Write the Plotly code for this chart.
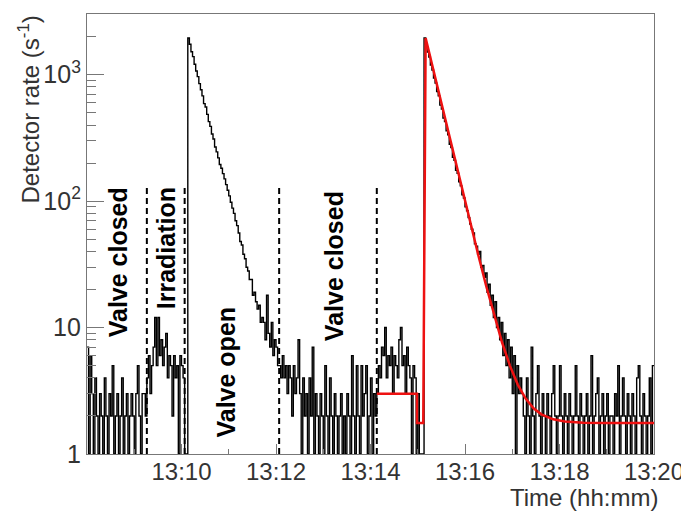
import numpy as np
import plotly.graph_objects as go

# ---------------- data (seconds after 13:08:00, rates in s^-1) ----------------
BIN_WIDTH = 2  # seconds per histogram bin

rate_valve_closed_1 = [7, 1, 6, 3, 1, 4, 2, 1, 3, 2, 1, 4, 2, 1, 3, 2, 5, 1, 2, 3,
                       1, 2, 4, 1, 2, 3, 1, 2, 3, 2, 1, 3, 5, 2, 1, 3, 3, 2]
rate_irradiation = [4, 6, 3, 5, 7, 12, 5, 12, 6, 8, 5, 7, 9, 4, 6, 5, 2, 6, 4, 5,
                    1, 6, 5, 4, 1]
rate_gap_1 = [1]
rate_peak_1 = [1950]
rate_decay_1 = [1740, 1520, 1390, 1210, 1070, 965, 850, 760, 680, 590,
                555, 485, 425, 390, 340, 310, 268, 245, 220, 195,
                182, 165, 150, 135, 122, 110, 98, 88, 80, 70,
                64, 56, 48, 45, 38, 35, 30, 28, 24, 24,
                18, 19, 16, 14, 15, 11, 12, 11, 8, 18,
                9, 7, 11, 6, 8, 7, 5]
rate_valve_closed_2 = [5, 4, 6, 4, 5, 3, 5, 4, 2, 5, 3, 4, 8, 3, 1, 4, 2, 3, 1, 4,
                       2, 7, 1, 3, 2, 1, 3, 2, 1, 5, 2, 1, 4, 2, 1, 3, 2, 1, 2, 3,
                       1, 2, 1, 3, 2, 1, 6, 2, 1, 5, 2, 1, 5, 2, 3, 5, 1, 2, 4, 1,
                       3, 2]
rate_before_release = [3, 5, 4, 7, 6, 10, 4, 6, 5, 7, 3, 6, 5, 4, 8, 10, 5, 6, 3, 7,
                       5, 4, 1, 5, 4, 1, 3]
rate_gap_2 = [1, 1, 1]
rate_peak_2 = [1950]
rate_decay_2 = [1745, 1510, 1380, 1190, 1090, 940, 860, 735, 680, 575,
                535, 455, 425, 360, 335, 282, 265, 222, 210, 175,
                166, 142, 132, 112, 106, 90, 84, 74, 66, 60,
                56, 46, 44, 38, 40, 30, 31, 25, 27, 19,
                22, 15, 18, 12, 16, 10, 12, 8, 11, 6,
                9, 5, 8, 4, 7, 3, 6, 1, 5, 3, 4]
rate_background = [3, 2, 1, 4, 2, 1, 7, 2, 1, 3, 5, 2, 1, 3, 2, 1, 3, 2, 1, 3,
                   5, 2, 1, 2, 5, 2, 1, 3, 2, 1, 3, 2, 1, 2, 5, 2, 1, 3, 2, 1,
                   2, 3, 1, 2, 6, 1, 2, 3, 4, 1, 2, 3, 1, 2, 3, 1, 2, 2, 1, 3,
                   2, 5, 1, 2, 4, 2, 1, 3, 2, 1, 3, 2, 1, 4, 5, 2, 1, 3, 2, 1,
                   2, 4, 1, 5]

fit_time = [368, 419, 419, 427, 430, 437, 447, 457, 467, 477, 487, 497, 507, 517,
            527, 537, 547, 557, 567, 577, 592, 607, 630, 660, 720]
fit_rate = [3.0, 3.0, 1.76, 1.76, 1950, 1283, 706, 389, 215, 119, 66.2, 37.2, 21.2,
            12.5, 7.65, 5.0, 3.54, 2.74, 2.30, 2.06, 1.88, 1.81, 1.77, 1.76, 1.76]

valve_times = [76, 124, 244, 368]
valve_line_top = 133

region_labels = ["Valve closed", "Irradiation", "Valve open", "Valve closed"]
region_label_x = [39, 100, 177, 313]
region_label_y = [0.435, 0.467, 0.186, 0.428]

tick_seconds = [120, 240, 360, 480, 600, 720]
tick_labels = ["13:10", "13:12", "13:14", "13:16", "13:18", "13:20"]
minor_tick_seconds = [60, 180, 300, 420, 540, 660]
ytick_vals = [1, 10, 100, 1000]
ytick_text = ["1", "10", "10<sup>2</sup>", "10<sup>3</sup>"]
yminor_vals = [2, 3, 4, 5, 6, 7, 8, 9, 20, 30, 40, 50, 60, 70, 80, 90,
               200, 300, 400, 500, 600, 700, 800, 900, 2000, 3000]

# ---------------- build figure ----------------
rates = (rate_valve_closed_1 + rate_irradiation + rate_gap_1 + rate_peak_1 + rate_decay_1
         + rate_valve_closed_2 + rate_before_release + rate_gap_2 + rate_peak_2
         + rate_decay_2 + rate_background)
edges = np.arange(0, BIN_WIDTH * len(rates) + 1, BIN_WIDTH)
hx = list(edges[:-1]) + [edges[-1]]
hy = rates + [rates[-1]]

FONT = "Liberation Sans, Arial, Helvetica, sans-serif"
TXT = "#333333"
FRAME = "#777777"

fig = go.Figure()
fig.add_trace(go.Scatter(x=hx, y=hy, mode="lines", line=dict(color="black", width=1.4, shape="hv"),
                         hoverinfo="skip", showlegend=False))

vx, vy = [], []
for t in valve_times:
    vx += [t, t, None]
    vy += [1, valve_line_top, None]
fig.add_trace(go.Scatter(x=vx, y=vy, mode="lines", line=dict(color="black", width=2, dash="6px,4px"),
                         hoverinfo="skip", showlegend=False))

fig.add_trace(go.Scatter(x=fit_time, y=fit_rate, mode="lines", line=dict(color="#ee1111", width=2.5),
                         hoverinfo="skip", showlegend=False))

for txt, x, y in zip(region_labels, region_label_x, region_label_y):
    fig.add_annotation(x=x, y=y, xref="x", yref="paper", text=txt, textangle=-90, showarrow=False,
                       xanchor="center", yanchor="middle",
                       font=dict(family=FONT, size=25, color="black", weight="bold"))

fig.add_annotation(x=1.011, y=-0.098, xref="paper", yref="paper", text="Time (hh:mm)", showarrow=False,
                   xanchor="right", yanchor="middle", font=dict(family=FONT, size=24, color=TXT))
fig.add_annotation(x=-0.1019, y=0.7834, xref="paper", yref="paper", text="Detector rate (s<sup>-1</sup>)",
                   textangle=-90, showarrow=False, xanchor="center", yanchor="middle",
                   font=dict(family=FONT, size=24, color=TXT))

# the page body has an 8px margin, so the figure is shrunk and margins shifted by 8px
fig.update_layout(
    width=681, height=503,
    margin=dict(l=79, r=33, t=5, b=57),
    plot_bgcolor="white", paper_bgcolor="white",
    font=dict(family=FONT, color=TXT, size=24),
    xaxis=dict(range=[0, 720], showline=True, linecolor=FRAME, linewidth=1.2, mirror=True,
               showgrid=False, zeroline=False, ticks="inside", ticklen=10, tickcolor=FRAME,
               tickmode="array", tickvals=tick_seconds, ticktext=tick_labels,
               tickfont=dict(size=24, color=TXT), ticklabelstandoff=-4,
               minor=dict(ticks="inside", ticklen=5, tickcolor=FRAME, tickmode="array",
                          tickvals=minor_tick_seconds, showgrid=False)),
    yaxis=dict(type="log", range=[0, 3.48], showline=True, linecolor=FRAME, linewidth=1.2, mirror=True,
               showgrid=False, zeroline=False, ticks="inside", ticklen=17, tickcolor=FRAME,
               tickmode="array", tickvals=ytick_vals, ticktext=ytick_text,
               tickfont=dict(size=25, color=TXT),
               minor=dict(ticks="inside", ticklen=9, tickcolor=FRAME, tickmode="array",
                          tickvals=yminor_vals, showgrid=False)),
)

fig.write_html("out.html")
